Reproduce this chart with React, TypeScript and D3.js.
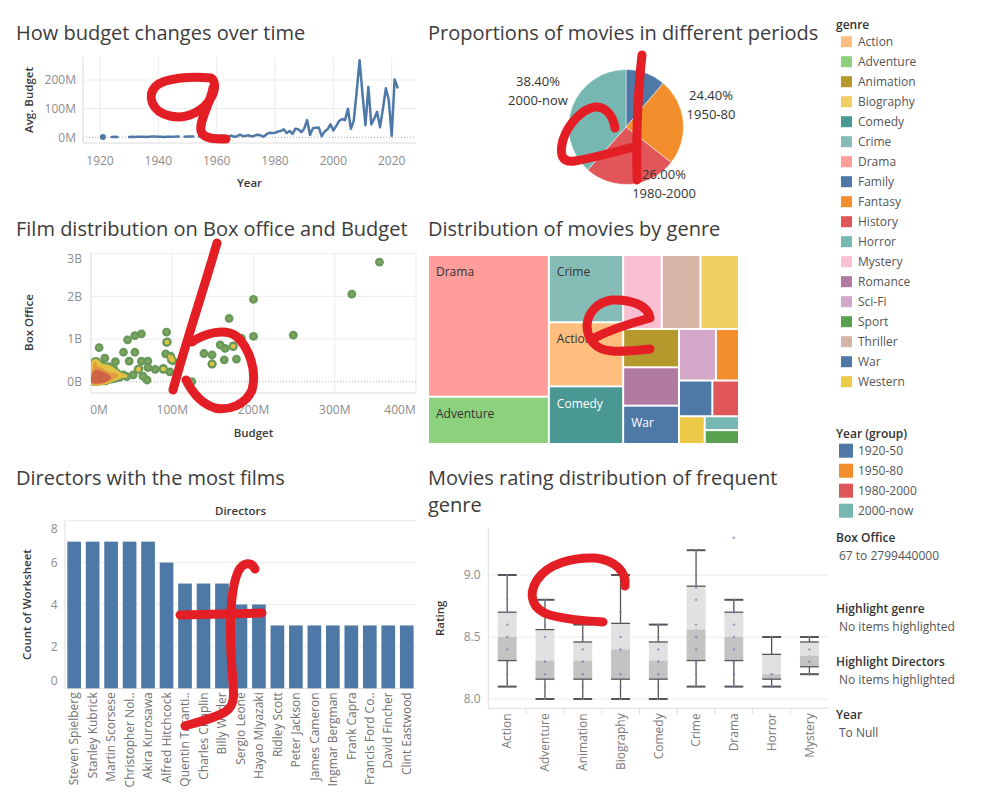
import React from 'react';
import * as d3 from 'd3';

const FONT = '"Open Sans", "Noto Sans", sans-serif';

// ---------- data ----------
// avg budget (M$) per release year, years without films are left out
const budgetByYear: [number, number][] = [
  [1921, 1], [1924, 1], [1925, 1.5], [1926, 1],
  [1930, 1], [1931, 1.5], [1932, 1], [1933, 2], [1934, 1.5], [1935, 2], [1936, 1], [1937, 2], [1938, 2.5],
  [1939, 3], [1940, 2], [1941, 1.5], [1942, 1], [1943, 2], [1944, 2], [1945, 1.5], [1946, 2.5], [1947, 3],
  [1949, 2], [1950, 3], [1951, 2.5], [1952, 3],
  [1954, 3], [1955, 4], [1956, 3], [1957, 5], [1958, 3], [1959, 6], [1960, 4], [1961, 5], [1962, 6], [1963, 5],
  [1964, 3], [1965, 6], [1966, 2], [1967, 4], [1968, 9], [1969, 4], [1970, 5], [1971, 7], [1972, 3], [1973, 6],
  [1974, 9], [1975, 7], [1976, 2], [1977, 10], [1978, 16], [1979, 15], [1980, 16], [1981, 20], [1982, 22],
  [1983, 28], [1984, 15], [1985, 22], [1986, 12], [1987, 30], [1988, 28], [1989, 18], [1990, 30], [1991, 60],
  [1992, 8], [1993, 32], [1994, 33], [1995, 34], [1996, 4], [1997, 20], [1998, 28], [1999, 45], [2000, 24],
  [2001, 40], [2002, 57], [2003, 64], [2004, 60], [2005, 100], [2006, 30], [2007, 58], [2008, 160], [2009, 269],
  [2010, 150], [2011, 42], [2012, 176], [2013, 45], [2014, 65], [2015, 89], [2016, 35], [2017, 100], [2018, 171],
  [2019, 130], [2020, 5], [2021, 202], [2022, 174],
];

const periods = ['1920-50', '1950-80', '1980-2000', '2000-now'];
const periodShare = [11.2, 24.4, 26.0, 38.4];
const periodColors = ['#4e79a7', '#f28e2b', '#e15759', '#76b7b2'];

// [budget M$, box office B$]
const scatterPoints: [number, number][] = [
  [355, 2.8], [321, 2.05], [200, 1.93], [249, 1.09], [200, 1.06], [185, 1.02], [170, 1.48], [175, 0.84],
  [175, 0.82], [159, 0.86], [165, 0.78], [179, 0.53], [164, 0.51], [149, 0.63], [149, 0.41], [149, 0.42],
  [139, 0.66], [93, 1.16], [93, 0.92], [94, 0.93], [92, 0.65], [98, 0.6], [101, 0.49], [99, 0.51], [89, 0.29],
  [97, 0.23], [124, 0.0], [62, 1.12], [54, 1.08], [45, 0.98], [40, 0.69], [54, 0.69], [47, 0.48], [62, 0.48],
  [70, 0.48], [70, 0.33], [79, 0.29], [58, 0.29], [59, 0.3], [69, 0.04], [64, 0.13], [52, 0.16], [10, 0.8],
  [7, 0.47], [17, 0.55], [30, 0.47], [32, 0.2], [40, 0.16], [44, 0.12], [5, 0.47], [89, 0.31],
  [1, 0.02], [2, 0.05], [3, 0.01], [3, 0.1], [4, 0.04], [5, 0.15], [5, 0.07], [6, 0.02], [7, 0.09], [8, 0.05],
  [8, 0.2], [9, 0.12], [10, 0.03], [11, 0.07], [12, 0.16], [13, 0.04], [14, 0.1], [15, 0.25], [16, 0.06],
  [17, 0.13], [18, 0.02], [19, 0.09], [20, 0.18], [21, 0.05], [22, 0.35], [23, 0.11], [24, 0.22], [25, 0.06],
  [27, 0.14], [28, 0.3], [30, 0.08], [32, 0.18], [35, 0.1], [2, 0.3], [4, 0.38], [1, 0.42], [6, 0.25],
  [10, 0.3], [12, 0.4], [3, 0.2], [7, 0.14], [9, 0.01], [14, 0.02], [16, 0.19], [11, 0.28], [18, 0.35],
  [20, 0.08], [5, 0.0], [15, 0.11], [13, 0.15], [2, 0.12], [6, 0.08], [9, 0.06], [12, 0.02], [4, 0.25],
];

const genres = ['Action', 'Adventure', 'Animation', 'Biography', 'Comedy', 'Crime', 'Drama', 'Family', 'Fantasy',
  'History', 'Horror', 'Mystery', 'Romance', 'Sci-Fi', 'Sport', 'Thriller', 'War', 'Western'];
const genreColors = ['#ffbe7d', '#8cd17d', '#b6992d', '#f1ce63', '#499894', '#86bcb6', '#ff9d9a', '#4e79a7', '#f28e2b',
  '#e15759', '#76b7b2', '#fabfd2', '#b07aa1', '#d4a6c8', '#59a14f', '#d7b5a6', '#4e79a7', '#edc948'];

const treeGenres = ['Drama', 'Adventure', 'Crime', 'Action', 'Comedy', 'Mystery', 'Thriller', 'Biography', 'Animation',
  'Romance', 'War', 'Sci-Fi', 'Fantasy', 'Family', 'History', 'Western', 'Horror', 'Sport'];
const treeCounts = [72, 24, 21, 20, 18, 12, 12, 12, 9, 9, 9, 8, 5, 5, 4, 3, 2, 2];

const directors = ['Steven Spielberg', 'Stanley Kubrick', 'Martin Scorsese', 'Christopher Nolan', 'Akira Kurosawa',
  'Alfred Hitchcock', 'Quentin Tarantino', 'Charles Chaplin', 'Billy Wilder', 'Sergio Leone', 'Hayao Miyazaki',
  'Ridley Scott', 'Peter Jackson', 'James Cameron', 'Ingmar Bergman', 'Frank Capra', 'Francis Ford Coppola',
  'David Fincher', 'Clint Eastwood'];
const directorFilms = [7, 7, 7, 7, 7, 6, 5, 5, 5, 4, 4, 3, 3, 3, 3, 3, 3, 3, 3];

const boxGenres = ['Action', 'Adventure', 'Animation', 'Biography', 'Comedy', 'Crime', 'Drama', 'Horror', 'Mystery'];
// [low whisker, q1, median, q3, high whisker]
const boxStats = [
  [8.1, 8.31, 8.5, 8.7, 9.0],
  [8.0, 8.16, 8.31, 8.56, 8.8],
  [8.0, 8.16, 8.31, 8.46, 8.6],
  [8.0, 8.16, 8.4, 8.61, 9.0],
  [8.0, 8.16, 8.31, 8.46, 8.6],
  [8.1, 8.31, 8.56, 8.91, 9.2],
  [8.1, 8.31, 8.5, 8.7, 8.8],
  [8.1, 8.16, 8.2, 8.36, 8.5],
  [8.2, 8.26, 8.35, 8.46, 8.5],
];
const boxRatings = [
  [9.0, 8.8, 8.7, 8.6, 8.5, 8.4, 8.3, 8.2, 8.1],
  [8.8, 8.7, 8.6, 8.5, 8.3, 8.2, 8.1, 8.0],
  [8.6, 8.5, 8.4, 8.3, 8.2, 8.1, 8.0],
  [9.0, 8.7, 8.5, 8.4, 8.2, 8.1, 8.0],
  [8.6, 8.5, 8.4, 8.3, 8.2, 8.1, 8.0],
  [9.2, 9.0, 8.9, 8.8, 8.6, 8.5, 8.4, 8.3, 8.2, 8.1],
  [9.3, 8.8, 8.7, 8.6, 8.5, 8.4, 8.3, 8.2, 8.1],
  [8.5, 8.2, 8.1],
  [8.5, 8.4, 8.3, 8.2],
];

// ---------- shared bits ----------
const GRID = '#ececec';
const BORDER = '#dcdcdc';
const TICK = '#8c8c8c';
const AXIS_TITLE = { fontSize: 11.5, fontWeight: 600, fill: '#3a3a3a' };
const clamp = (v, lo, hi) => Math.max(lo, Math.min(hi, v));

const Title = ({ x, y, children }) => (
  <text x={x} y={y} fontSize={20} fill="#3c3c3c">{children}</text>
);

// ---------- line chart ----------
function BudgetLine() {
  const pane = { l: 83, r: 416, t: 57, b: 143 };
  const x = d3.scaleLinear().domain([1920, 2020]).range([100, 391.7]);
  const y = d3.scaleLinear().domain([0, 200]).range([137.3, 80]);
  const byYear = new Map(budgetByYear);
  const series = d3.range(1921, 2023).map((yr) => ({ yr, v: byYear.get(yr) }));
  const line = d3.line<any>().defined((d) => d.v != null).x((d) => x(d.yr)).y((d) => y(d.v));
  const lonely = series.filter((d, i) => d.v != null && series[i - 1]?.v == null && series[i + 1]?.v == null);
  const xTicks = d3.range(1920, 2021, 20);
  const yTicks = [0, 100, 200];
  return (
    <g>
      <Title x={16} y={40}>How budget changes over time</Title>
      {xTicks.map((t) => <line key={t} x1={x(t)} x2={x(t)} y1={pane.t} y2={pane.b} stroke={GRID} />)}
      {yTicks.filter((t) => t > 0).map((t) => <line key={t} x1={pane.l} x2={pane.r} y1={y(t)} y2={y(t)} stroke={GRID} />)}
      <line x1={pane.l} x2={pane.l} y1={pane.t} y2={pane.b} stroke={BORDER} />
      <line x1={pane.l} x2={pane.r} y1={pane.b} y2={pane.b} stroke={BORDER} />
      <line x1={pane.l} x2={pane.r} y1={y(0)} y2={y(0)} stroke="#b5b5b5" strokeDasharray="1,2" />
      <path d={line(series)} fill="none" stroke="#4e79a7" strokeWidth={2.5} strokeLinejoin="round" strokeLinecap="round" />
      {lonely.map((d) => <circle key={d.yr} cx={x(d.yr)} cy={y(d.v)} r={3} fill="#4e79a7" />)}
      {yTicks.map((t) => (
        <text key={t} x={76} y={y(t)} dy="0.35em" textAnchor="end" fontSize={12} fill={TICK}>{t}M</text>
      ))}
      {xTicks.map((t) => (
        <text key={t} x={x(t)} y={165} textAnchor="middle" fontSize={12} fill={TICK}>{t}</text>
      ))}
      <text transform={`translate(33,${(pane.t + pane.b) / 2}) rotate(-90)`} textAnchor="middle" {...AXIS_TITLE}>Avg. Budget</text>
      <text x={(pane.l + pane.r) / 2} y={187} textAnchor="middle" {...AXIS_TITLE}>Year</text>
    </g>
  );
}

// ---------- pie ----------
function PeriodPie() {
  const cx = 626, cy = 127, r = 57.5;
  const arcs = d3.pie<number>().sort(null).value((d) => d)(periodShare);
  const arc = d3.arc<any>().innerRadius(0).outerRadius(r);
  const labelAt = { '1950-80': [85, -24], '1980-2000': [38, 55], '2000-now': [-88, -38] };
  return (
    <g>
      <Title x={428} y={40}>Proportions of movies in different periods</Title>
      <g transform={`translate(${cx},${cy})`}>
        {arcs.map((a, i) => <path key={periods[i]} d={arc(a)} fill={periodColors[i]} stroke="#fff" strokeWidth={0.5} />)}
        {arcs.map((a, i) => {
          const off = labelAt[periods[i]];
          if (!off) return null;
          return (
            <text key={periods[i]} x={off[0]} y={off[1]} textAnchor="middle" fontSize={13} fill="#333">
              <tspan x={off[0]} dy="-0.25em">{a.data.toFixed(2)}%</tspan>
              <tspan x={off[0]} dy="1.45em">{periods[i]}</tspan>
            </text>
          );
        })}
      </g>
    </g>
  );
}

// ---------- scatter / density ----------
function BudgetScatter() {
  const pane = { l: 91, r: 416, t: 252, b: 393 };
  const x = d3.scaleLinear().domain([0, 400]).range([91, 416]);
  const y = d3.scaleLinear().domain([0, 3]).range([381.7, 253.6]);
  const ox = 70, oy = 235;
  const dens = d3.contourDensity<[number, number]>()
    .x((d) => x(d[0]) - ox)
    .y((d) => y(d[1]) - oy)
    .size([370, 175])
    .cellSize(1)
    .bandwidth(2.6);
  const peak = dens.contours([[200, 1.5]]).max;
  const grid = dens.contours(scatterPoints);
  // hot spots only appear where marks pile up
  const levels = [
    [1.5, '#e2c242'],
    [3.0, '#e39a3e'],
    [4.6, '#cd6446'],
  ];
  const geo = d3.geoPath();
  const xTicks = [0, 100, 200, 300, 400];
  const yTicks = [0, 1, 2, 3];
  return (
    <g>
      <Title x={16} y={236}>Film distribution on Box office and Budget</Title>
      <defs>
        <clipPath id="scatterClip"><rect x={pane.l} y={pane.t} width={pane.r - pane.l} height={pane.b - pane.t} /></clipPath>
      </defs>
      {xTicks.slice(1).map((t) => <line key={t} x1={x(t)} x2={x(t)} y1={pane.t} y2={pane.b} stroke={GRID} />)}
      {yTicks.slice(1).map((t) => <line key={t} x1={pane.l} x2={pane.r} y1={y(t)} y2={y(t)} stroke={GRID} />)}
      <line x1={pane.l} x2={pane.l} y1={pane.t} y2={pane.b} stroke={BORDER} />
      <line x1={pane.l} x2={pane.r} y1={pane.b} y2={pane.b} stroke={BORDER} />
      <line x1={pane.l} x2={pane.r} y1={y(0)} y2={y(0)} stroke="#b5b5b5" strokeDasharray="1,2" />
      <g clipPath="url(#scatterClip)">
        {scatterPoints.map((p, i) => <circle key={'o' + i} cx={x(p[0])} cy={y(p[1])} r={4.4} fill="#68985a" />)}
        {scatterPoints.map((p, i) => <circle key={'i' + i} cx={x(p[0])} cy={y(p[1])} r={2} fill="#7fa65c" />)}
        <g transform={`translate(${ox},${oy})`}>
          {levels.map(([k, c]) => <path key={c} d={geo(grid(k * peak)) || ''} fill={c} />)}
        </g>
      </g>
      {yTicks.map((t) => (
        <text key={t} x={82} y={clamp(y(t), pane.t + 7, pane.b - 7)} dy="0.35em" textAnchor="end" fontSize={12} fill={TICK}>{t}B</text>
      ))}
      {xTicks.map((t) => {
        const half = `${t}M`.length * 4;
        return (
          <text key={t} x={clamp(x(t), pane.l + half, pane.r - half)} y={414} textAnchor="middle" fontSize={12} fill={TICK}>{t}M</text>
        );
      })}
      <text transform={`translate(33,${(pane.t + pane.b) / 2}) rotate(-90)`} textAnchor="middle" {...AXIS_TITLE}>Box Office</text>
      <text x={(pane.l + pane.r) / 2} y={437} textAnchor="middle" {...AXIS_TITLE}>Budget</text>
    </g>
  );
}

// ---------- treemap ----------
function GenreTreemap() {
  const x0 = 429, y0 = 256;
  const root = d3.hierarchy<any>({ children: treeGenres.map((g, i) => ({ g, v: treeCounts[i] })) })
    .sum((d) => d.v || 0)
    .sort((a, b) => b.value - a.value);
  d3.treemap<any>().tile(d3.treemapSquarify).size([309, 187]).paddingInner(2)(root);
  const colorOf = d3.scaleOrdinal<string, string>().domain(genres).range(genreColors);
  return (
    <g>
      <Title x={428} y={236}>Distribution of movies by genre</Title>
      <g transform={`translate(${x0},${y0})`}>
        {root.leaves().map((n: any) => {
          const w = n.x1 - n.x0, h = n.y1 - n.y0;
          const fill = colorOf(n.data.g);
          const showLabel = n.data.g.length * 7 + 10 < w && h > 25;
          return (
            <g key={n.data.g}>
              <rect x={n.x0} y={n.y0} width={w} height={h} fill={fill} />
              {showLabel && (
                <text x={n.x0 + 7} y={n.y0 + 16} dy="0.35em" fontSize={12}
                  fill={d3.hsl(fill).l < 0.5 ? '#fff' : '#333'}>{n.data.g}</text>
              )}
            </g>
          );
        })}
      </g>
    </g>
  );
}

// ---------- bars ----------
function DirectorBars() {
  const pane = { l: 65, r: 416, t: 520.7, b: 688.3 };
  const x = d3.scaleBand().domain(directors).range([64.9, 416]).paddingInner(0.26).paddingOuter(0.13);
  const y = d3.scaleLinear().domain([0, 8]).range([pane.b, pane.t]);
  const yTicks = [0, 2, 4, 6, 8];
  const short = (s) => (s.length > 16 ? s.slice(0, 15) + '..' : s);
  return (
    <g>
      <Title x={16} y={485}>Directors with the most films</Title>
      <text x={(pane.l + pane.r) / 2} y={511} dy="0.35em" textAnchor="middle" {...AXIS_TITLE}>Directors</text>
      {yTicks.map((t) => <line key={t} x1={pane.l} x2={pane.r} y1={y(t)} y2={y(t)} stroke={t === 0 ? BORDER : GRID} />)}
      <line x1={pane.l} x2={pane.l} y1={pane.t} y2={pane.b} stroke={BORDER} />
      {directors.map((d, i) => (
        <rect key={d} x={x(d)} y={y(directorFilms[i])} width={x.bandwidth()} height={y(0) - y(directorFilms[i])} fill="#4e79a7" />
      ))}
      {yTicks.map((t) => (
        <text key={t} x={57.5} y={clamp(y(t), pane.t + 8, pane.b - 8)} dy="0.35em" textAnchor="end" fontSize={12} fill={TICK}>{t}</text>
      ))}
      {directors.map((d) => (
        <text key={d} transform={`translate(${x(d) + x.bandwidth() / 2},${pane.b + 4}) rotate(-90)`} dy="0.35em"
          textAnchor="end" fontSize={12} fill="#707070">{short(d)}</text>
      ))}
      <text transform={`translate(31,${(pane.t + pane.b) / 2}) rotate(-90)`} textAnchor="middle" {...AXIS_TITLE}>Count of Worksheet</text>
    </g>
  );
}

// ---------- box plot ----------
function RatingBoxes() {
  const pane = { l: 488.3, r: 828.3, t: 528.3, b: 708.3 };
  const x = d3.scaleBand().domain(boxGenres).range([pane.l, pane.r]);
  const y = d3.scaleLinear().domain([8, 9]).range([699, 575]);
  const bw = x.bandwidth() * 0.5;
  const yTicks = [8, 8.5, 9];
  return (
    <g>
      <Title x={428} y={485}>Movies rating distribution of frequent</Title>
      <Title x={428} y={512}>genre</Title>
      {yTicks.map((t) => <line key={t} x1={pane.l} x2={pane.r} y1={y(t)} y2={y(t)} stroke={GRID} />)}
      <line x1={pane.l} x2={pane.l} y1={pane.t} y2={pane.b} stroke={BORDER} />
      <line x1={pane.l} x2={pane.r} y1={pane.b} y2={pane.b} stroke={BORDER} />
      {boxGenres.slice(1).map((g) => <line key={g} x1={x(g)} x2={x(g)} y1={pane.b} y2={pane.b + 6} stroke={BORDER} />)}
      {boxGenres.map((g, i) => {
        const [lo, q1, med, q3, hi] = boxStats[i];
        const cx = x(g) + x.bandwidth() / 2;
        const bx = cx - bw / 2;
        return (
          <g key={g}>
            <line x1={cx} x2={cx} y1={y(hi)} y2={y(lo)} stroke="#555" strokeWidth={1.3} />
            <rect x={bx} y={y(q3)} width={bw} height={y(med) - y(q3)} fill="#e1e1e1" />
            <rect x={bx} y={y(med)} width={bw} height={y(q1) - y(med)} fill="#c3c3c3" />
            <line x1={bx} x2={bx + bw} y1={y(q3)} y2={y(q3)} stroke="#555" strokeWidth={1.3} />
            <line x1={bx} x2={bx + bw} y1={y(q1)} y2={y(q1)} stroke="#555" strokeWidth={1.3} />
            <line x1={bx} x2={bx + bw} y1={y(hi)} y2={y(hi)} stroke="#555" strokeWidth={2} />
            <line x1={bx} x2={bx + bw} y1={y(lo)} y2={y(lo)} stroke="#555" strokeWidth={2} />
            {boxRatings[i].map((v) => <circle key={v} cx={cx} cy={y(v)} r={1.2} fill="#6f86a6" opacity={0.75} />)}
          </g>
        );
      })}
      {yTicks.map((t) => (
        <text key={t} x={480.5} y={y(t)} dy="0.35em" textAnchor="end" fontSize={12} fill={TICK}>{t.toFixed(1)}</text>
      ))}
      {boxGenres.map((g) => (
        <text key={g} transform={`translate(${x(g) + x.bandwidth() / 2},${pane.b + 5}) rotate(-90)`} dy="0.35em"
          textAnchor="end" fontSize={12} fill="#7a7a7a">{g}</text>
      ))}
      <text transform={`translate(444,${(pane.t + pane.b) / 2}) rotate(-90)`} textAnchor="middle" {...AXIS_TITLE}>Rating</text>
    </g>
  );
}

// ---------- legends ----------
function Legends() {
  const head = { fontSize: 12, fontWeight: 600, fill: '#333' };
  const val = { fontSize: 12, fill: '#555' };
  const filters = [
    ['Box Office', '67 to 2799440000', 538],
    ['Highlight genre', 'No items highlighted', 609],
    ['Highlight Directors', 'No items highlighted', 662],
    ['Year', 'To Null', 715],
  ];
  return (
    <g>
      <text x={836} y={25} dy="0.35em" {...head}>genre</text>
      {genres.map((g, i) => (
        <g key={g} transform={`translate(0,${41.7 + i * 20})`}>
          <rect x={841} y={-5.5} width={11} height={11} fill={genreColors[i]} />
          <text x={858} dy="0.35em" {...val}>{g}</text>
        </g>
      ))}
      <text x={836} y={434} dy="0.35em" {...head}>Year (group)</text>
      {periods.map((p, i) => (
        <g key={p} transform={`translate(0,${450.7 + i * 20})`}>
          <rect x={839} y={-7} width={14} height={14} fill={periodColors[i]} />
          <text x={858} dy="0.35em" {...val}>{p}</text>
        </g>
      ))}
      {filters.map(([h, v, yy]) => (
        <g key={h as string}>
          <text x={836} y={yy as number} dy="0.35em" {...head}>{h}</text>
          <text x={839} y={(yy as number) + 18} dy="0.35em" {...val}>{v}</text>
        </g>
      ))}
    </g>
  );
}

// ---------- red hand-written marks over the dashboard ----------
const scribbles = [
  'M 211 78 C 190 76, 165 78, 156 86 C 146 96, 152 112, 170 116 C 188 120, 205 110, 212 96 C 216 88, 215 80, 211 78',
  'M 213 88 C 210 105, 199 120, 201 131 C 203 139, 215 139, 226 139',
  'M 217 243 C 205 285, 185 345, 173 390',
  'M 192 342 C 205 333, 225 328, 236 336 C 250 348, 257 372, 252 390 C 246 405, 228 411, 215 408 C 202 404, 192 392, 186 380',
  'M 625 586 C 627 572, 615 560, 595 558 C 575 557, 548 563, 537 580 C 527 596, 533 610, 550 615 C 565 619, 585 621, 603 622',
  'M 642 55 C 638 90, 636 130, 637 180',
  'M 615 128 C 613 115, 605 106, 595 107 C 582 109, 568 124, 563 140 C 559 155, 562 163, 575 161 C 592 158, 615 152, 637 146',
  'M 594 338 C 610 330, 635 322, 650 318 C 648 305, 630 299, 612 300 C 598 302, 588 312, 587 325 C 587 340, 596 350, 612 351 C 625 352, 640 350, 650 349',
  'M 255 569 C 252 562, 243 561, 238 572 C 230 590, 229 630, 232 670 C 234 695, 236 705, 225 712 C 213 719, 198 722, 185 726',
  'M 180 615 L 262 613',
];

function Annotations() {
  return (
    <g fill="none" stroke="#e31e24" strokeWidth={9} strokeLinecap="round" strokeLinejoin="round">
      {scribbles.map((d, i) => <path key={i} d={d} />)}
    </g>
  );
}

export default function App() {
  return (
    <svg width={999} height={799} style={{ position: 'absolute', left: 0, top: 0 }} fontFamily={FONT}>
      <rect width={999} height={799} fill="#fff" />
      <BudgetLine />
      <PeriodPie />
      <BudgetScatter />
      <GenreTreemap />
      <DirectorBars />
      <RatingBoxes />
      <Legends />
      <Annotations />
    </svg>
  );
}
